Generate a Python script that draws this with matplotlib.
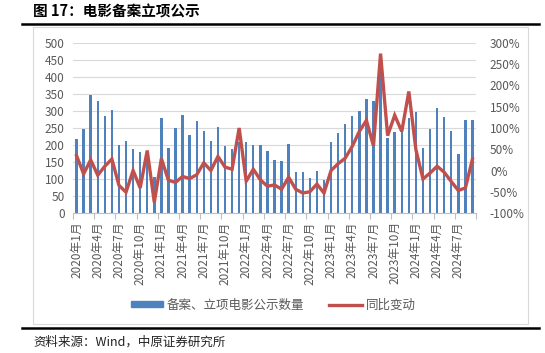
import matplotlib
matplotlib.use("Agg")
import matplotlib.pyplot as plt
from matplotlib.lines import Line2D
from matplotlib.patches import Rectangle
import numpy as np

plt.rcParams['font.family'] = ['Noto Sans CJK SC', 'DejaVu Sans']

# ---- data ----
months = [f"{y}年{m}月" for y in range(2020, 2025) for m in range(1, 13)][:57]
counts = [218, 248, 348, 329, 284, 304, 199, 213, 188, 179, 183, 105,
          279, 190, 250, 289, 228, 271, 240, 211, 252, 196, 188, 210,
          210, 200, 200, 182, 155, 153, 204, 120, 120, 103, 125, 96,
          209, 234, 263, 284, 301, 335, 328, 448, 220, 238, 240, 279,
          296, 190, 248, 310, 282, 242, 173, 273, 274]
yoy = [35, -8, 25, -11, 10, 27, -35, -51, 0, -41, 47, -75,
       28, -23, -28, -14, -19, -10, 18, 0, 33, 8, 3, 100,
       -25, 3, -22, -37, -34, -44, -16, -44, -53, -50, -32, -53,
       0, 16, 29, 57, 92, 118, 58, 275, 82, 130, 92, 186,
       49, -20, -6, 10, -4, -26, -47, -41, 27]
tick_labels = ["2020年1月", "2020年4月", "2020年7月", "2020年10月",
               "2021年1月", "2021年4月", "2021年7月", "2021年10月",
               "2022年1月", "2022年4月", "2022年7月", "2022年10月",
               "2023年1月", "2023年4月", "2023年7月", "2023年10月",
               "2024年1月", "2024年4月", "2024年7月"]
left_ticks = list(range(0, 501, 50))
right_ticks = list(range(-100, 301, 50))
bar_name = "备案、立项电影公示数量"
line_name = "同比变动"
title = "图 17：电影备案立项公示"
source = "资料来源：Wind，中原证券研究所"

W, H = 545, 353
fig = plt.figure(figsize=(W / 100, H / 100), dpi=100)

def fx(px):
    return px / W

def fy(py):
    return 1 - py / H

grey = "#595959"
bar_c = "#4F81BD"
line_c = "#C0504D"

ax = fig.add_axes([fx(73), fy(213), fx(476) - fx(73), fy(43) - fy(213)])
x = np.arange(len(counts))
ax.bar(x, counts, width=0.34, color=bar_c, zorder=2)
ax.set_xlim(-0.5, len(counts) - 0.5)
ax.set_ylim(0, 500)
ax.set_yticks(left_ticks)
ax.grid(axis='y', color='#D9D9D9', linewidth=0.8, zorder=0)
ax.set_axisbelow(True)
for s in ['top', 'right', 'left']:
    ax.spines[s].set_visible(False)
ax.spines['bottom'].set_color('#BFBFBF')
ax.spines['bottom'].set_linewidth(0.8)
ax.tick_params(axis='y', length=0, labelsize=8.5, labelcolor=grey, pad=6)
ax.set_xticks(x[::3])
ax.set_xticklabels(tick_labels, rotation=90, fontsize=8.5, color=grey)
ax.tick_params(axis='x', which='major', length=0, pad=6)
ax.set_xticks(np.arange(-0.5, len(counts), 3), minor=True)
ax.tick_params(axis='x', which='minor', length=4, color='#BFBFBF', width=0.8)

ax2 = ax.twinx()
ax2.plot(x, yoy, color=line_c, linewidth=2.4, solid_joinstyle='miter', zorder=3)
ax2.set_ylim(-100, 300)
ax2.set_yticks(right_ticks)
ax2.set_yticklabels([f"{v}%" for v in right_ticks])
ax2.tick_params(axis='y', length=0, labelsize=8.5, labelcolor=grey, pad=10)
for s in ['top', 'right', 'left', 'bottom']:
    ax2.spines[s].set_visible(False)

# frame box
fig.patches.append(Rectangle((fx(33), fy(324)), fx(528) - fx(33), fy(27) - fy(324),
                             transform=fig.transFigure, fill=False,
                             edgecolor='#D9D9D9', linewidth=0.8))
# thick rules
fig.add_artist(Line2D([fx(22), fx(539)], [fy(23.5), fy(23.5)], color='black', linewidth=1.8,
                      transform=fig.transFigure))
fig.add_artist(Line2D([fx(22), fx(539)], [fy(327.5), fy(327.5)], color='black', linewidth=1.8,
                      transform=fig.transFigure))

fig.text(fx(33), fy(12), title, fontsize=10.5, fontweight='bold', va='center', ha='left')
fig.text(fx(33), fy(342), source, fontsize=9, va='center', ha='left', color='#222222')

handles = [Rectangle((0, 0), 1, 1, color=bar_c),
           Line2D([0], [0], color=line_c, linewidth=2.4)]
leg = fig.legend(handles, [bar_name, line_name], loc='center',
                 bbox_to_anchor=(fx(273), fy(305)), ncol=2, frameon=False,
                 fontsize=9, handlelength=2.6, handleheight=0.35, columnspacing=2.0,
                 handletextpad=0.3)
for t in leg.get_texts():
    t.set_color(grey)

fig.savefig("out.png", dpi=100)
